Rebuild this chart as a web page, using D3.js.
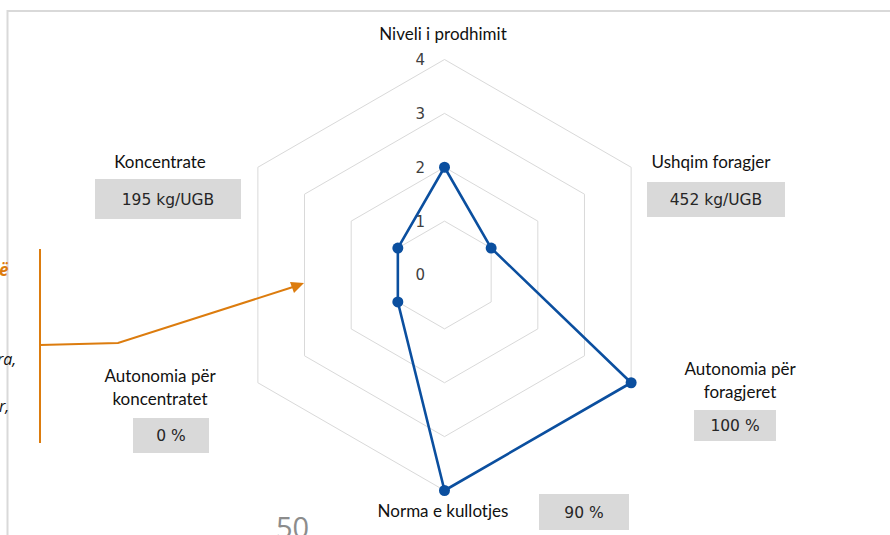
<!DOCTYPE html>
<html><head><meta charset="utf-8">
<script src="https://cdn.jsdelivr.net/npm/d3@7"></script>
<style>html,body{margin:0;padding:0;background:#fff;overflow:hidden}</style>
</head><body>
<svg id="c" width="890" height="535"></svg>
<script>
// ---- data ----
const categories = ["Niveli i prodhimit", "Ushqim foragjer", "Autonomia për foragjeret", "Norma e kullotjes", "Autonomia për koncentratet", "Koncentrate"];
const values = [2, 1, 4, 4, 1, 1];
const valueLabels = [null, "452 kg/UGB", "100 %", "90 %", "0 %", "195 kg/UGB"];
const tickValues = [0, 1, 2, 3, 4];

// ---- layout (not data) ----
const labelLayout = [
  {x: 443, y: 40, lines: ["Niveli i prodhimit"]},
  {x: 711, y: 168, lines: ["Ushqim foragjer"]},
  {x: 740, y: 375, lines: ["Autonomia për", "foragjeret"]},
  {x: 443, y: 517, lines: ["Norma e kullotjes"]},
  {x: 160, y: 382, lines: ["Autonomia për", "koncentratet"]},
  {x: 160, y: 168, lines: ["Koncentrate"]}
];
const boxLayout = [
  null,
  {x0: 647, x1: 785, y0: 182, y1: 217},
  {x0: 694, x1: 776, y0: 410, y1: 441},
  {x0: 539, x1: 629, y0: 494, y1: 530},
  {x0: 133, x1: 209, y0: 418, y1: 453},
  {x0: 95, x1: 241, y0: 179, y1: 219}
];

const svg = d3.select("#c");
const cx = 444.5, cy = 275;
const r = d3.scaleLinear().domain([0, 4]).range([0, 215.5]);
const ang = d3.scaleLinear().domain([0, categories.length]).range([0, 2 * Math.PI]);
const pt = (i, v) => [cx + r(v) * Math.sin(ang(i)), cy - r(v) * Math.cos(ang(i))];

// frame
svg.append("path").attr("d", "M7.5,535 L7.5,11 L890,11")
  .attr("fill", "none").attr("stroke", "#d9d9d9").attr("stroke-width", 2);

// grid hexagons
const gridLine = d3.line();
tickValues.filter(t => t > 0).forEach(t => {
  const pts = categories.map((c, i) => pt(i, t));
  svg.append("path").attr("d", gridLine(pts) + "Z")
    .attr("fill", "none").attr("stroke", "#d9d9d9").attr("stroke-width", 1);
});

// tick labels
svg.selectAll("text.tick").data(tickValues).join("text")
  .attr("class", "tick")
  .attr("x", 425).attr("y", d => cy - r(d))
  .attr("dy", "0.36em")
  .attr("text-anchor", "end")
  .attr("font-family", "DejaVu Sans")
  .attr("font-size", 15)
  .attr("fill", "#404040")
  .text(d => d);

// category labels
categories.forEach((c, i) => {
  const L = labelLayout[i];
  const t = svg.append("text")
    .attr("text-anchor", "middle")
    .attr("font-family", "Lato")
    .attr("font-size", 17)
    .attr("fill", "#111");
  L.lines.forEach((ln, k) => t.append("tspan").attr("x", L.x).attr("y", L.y + k * 23).text(ln));
});

// value boxes
valueLabels.forEach((v, i) => {
  const B = boxLayout[i];
  if (!v || !B) return;
  svg.append("rect").attr("x", B.x0).attr("y", B.y0)
    .attr("width", B.x1 - B.x0).attr("height", B.y1 - B.y0)
    .attr("fill", "#d9d9d9");
  svg.append("text").attr("x", (B.x0 + B.x1) / 2).attr("y", (B.y0 + B.y1) / 2)
    .attr("dy", "0.36em")
    .attr("text-anchor", "middle")
    .attr("font-family", "DejaVu Sans")
    .attr("font-size", 15.5)
    .attr("fill", "#262626")
    .text(v);
});

// series
const pts = values.map((v, i) => pt(i, v));
svg.append("path").attr("d", d3.line()(pts) + "Z")
  .attr("fill", "none").attr("stroke", "#0b4f9f").attr("stroke-width", 2.6)
  .attr("stroke-linejoin", "round");
svg.selectAll("circle.pt").data(values).join("circle")
  .attr("class", "pt")
  .attr("cx", (d, i) => pt(i, d)[0]).attr("cy", (d, i) => pt(i, d)[1])
  .attr("r", 5.5).attr("fill", "#0b4f9f");

// orange annotation (page context)
const orange = "#dc7c0e";
svg.append("line").attr("x1", 40).attr("x2", 40).attr("y1", 249).attr("y2", 443)
  .attr("stroke", orange).attr("stroke-width", 2);
svg.append("path").attr("d", "M40,345 L118,343 L293,287")
  .attr("fill", "none").attr("stroke", orange).attr("stroke-width", 2);
svg.append("path").attr("d", "M304,283 L290,282 L294,293 Z").attr("fill", orange);
svg.append("text").attr("x", -1).attr("y", 276).attr("font-family", "Open Sans")
  .attr("font-weight", "bold").attr("font-style", "italic").attr("font-size", 17)
  .attr("fill", orange).text("ë");
svg.append("text").attr("x", -3).attr("y", 365).attr("font-family", "Open Sans")
  .attr("font-style", "italic").attr("font-size", 16).attr("fill", "#111").text("ra,");
svg.append("text").attr("x", -1).attr("y", 412).attr("font-family", "Open Sans")
  .attr("font-style", "italic").attr("font-size", 16).attr("fill", "#111").text("r,");
svg.append("text").attr("x", 276).attr("y", 538).attr("font-family", "Open Sans")
  .attr("font-size", 29).attr("fill", "#8c8c8c").text("50");
</script>
</body></html>
